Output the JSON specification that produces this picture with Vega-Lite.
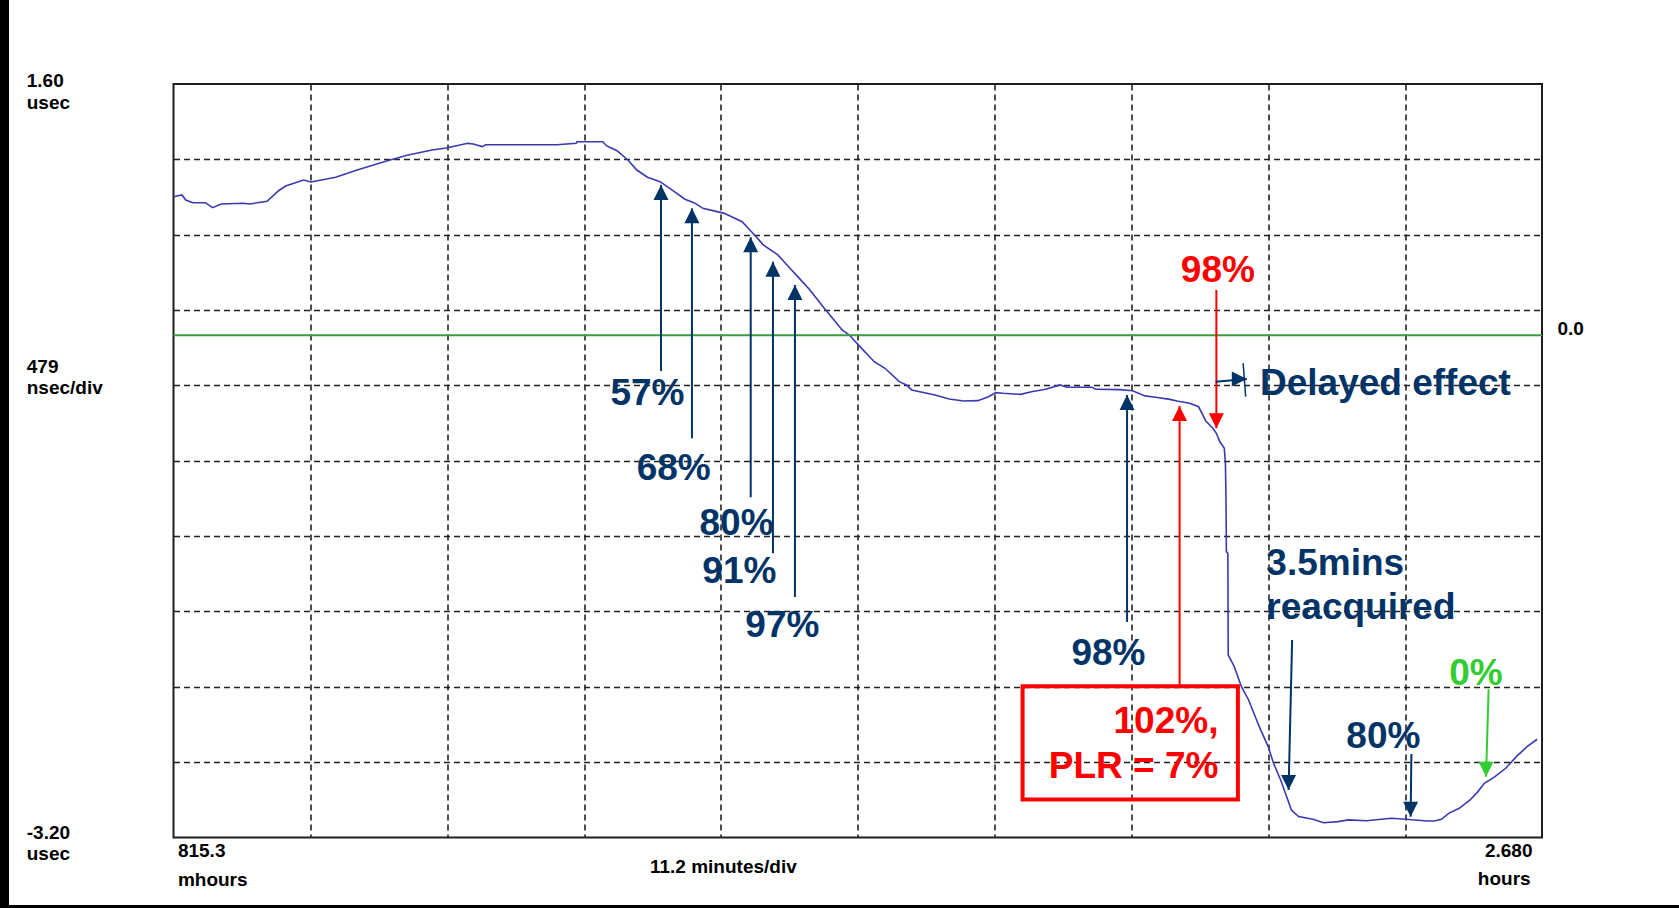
{
  "$schema": "https://vega.github.io/schema/vega-lite/v6.json",
  "width": 1368.5,
  "height": 753.5,
  "autosize": {"type": "none"},
  "padding": {"left": 173.5, "top": 84, "right": 137, "bottom": 70.5},
  "background": "white",
  "config": {
    "view": {"stroke": "#1e1e1e", "strokeWidth": 2},
    "font": "Liberation Sans",
    "axis": {
      "grid": true, "gridDash": [6, 4], "gridColor": "#222222", "gridWidth": 1.6, "gridOpacity": 1,
      "labels": false, "ticks": false, "domain": false
    }
  },
  "datasets": {
    "trace": [
      {"t": 0.0, "v": 0.882}, {"t": 0.70, "v": 0.893}, {"t": 1.00, "v": 0.861}, {"t": 1.59, "v": 0.844},
      {"t": 2.61, "v": 0.844}, {"t": 3.19, "v": 0.812}, {"t": 3.92, "v": 0.836}, {"t": 5.68, "v": 0.840},
      {"t": 6.26, "v": 0.836}, {"t": 7.66, "v": 0.853}, {"t": 8.60, "v": 0.920}, {"t": 9.18, "v": 0.950},
      {"t": 10.65, "v": 0.988}, {"t": 11.23, "v": 0.976}, {"t": 12.10, "v": 0.988}, {"t": 13.27, "v": 1.006},
      {"t": 15.03, "v": 1.052}, {"t": 17.37, "v": 1.108}, {"t": 19.12, "v": 1.146}, {"t": 21.16, "v": 1.180},
      {"t": 22.33, "v": 1.192}, {"t": 24.09, "v": 1.222}, {"t": 24.53, "v": 1.218}, {"t": 25.26, "v": 1.201},
      {"t": 25.55, "v": 1.213}, {"t": 31.39, "v": 1.213}, {"t": 32.95, "v": 1.222}, {"t": 33.03, "v": 1.232},
      {"t": 35.14, "v": 1.232}, {"t": 35.43, "v": 1.207}, {"t": 36.30, "v": 1.175}, {"t": 37.19, "v": 1.116},
      {"t": 37.92, "v": 1.052}, {"t": 38.79, "v": 1.006}, {"t": 39.82, "v": 0.978}, {"t": 40.99, "v": 0.914},
      {"t": 41.86, "v": 0.866}, {"t": 42.59, "v": 0.844}, {"t": 43.33, "v": 0.808}, {"t": 44.49, "v": 0.787},
      {"t": 45.08, "v": 0.776}, {"t": 46.53, "v": 0.723}, {"t": 47.42, "v": 0.649}, {"t": 48.29, "v": 0.574},
      {"t": 49.46, "v": 0.511}, {"t": 50.34, "v": 0.436}, {"t": 51.22, "v": 0.362}, {"t": 52.09, "v": 0.288},
      {"t": 53.26, "v": 0.171}, {"t": 53.84, "v": 0.118}, {"t": 54.72, "v": 0.033}, {"t": 55.31, "v": 0.001},
      {"t": 56.18, "v": -0.073}, {"t": 57.35, "v": -0.169}, {"t": 58.23, "v": -0.211}, {"t": 59.40, "v": -0.296},
      {"t": 59.98, "v": -0.317}, {"t": 60.42, "v": -0.349}, {"t": 62.32, "v": -0.381}, {"t": 63.49, "v": -0.407},
      {"t": 64.66, "v": -0.419}, {"t": 65.83, "v": -0.417}, {"t": 66.71, "v": -0.392}, {"t": 67.29, "v": -0.366},
      {"t": 67.88, "v": -0.370}, {"t": 69.34, "v": -0.377}, {"t": 70.21, "v": -0.360}, {"t": 71.38, "v": -0.345},
      {"t": 72.55, "v": -0.317}, {"t": 73.13, "v": -0.332}, {"t": 75.18, "v": -0.332}, {"t": 75.47, "v": -0.345},
      {"t": 77.46, "v": -0.347}, {"t": 78.49, "v": -0.354}, {"t": 79.51, "v": -0.387}, {"t": 80.38, "v": -0.396},
      {"t": 81.55, "v": -0.409}, {"t": 82.13, "v": -0.419}, {"t": 83.16, "v": -0.434}, {"t": 83.89, "v": -0.456},
      {"t": 84.18, "v": -0.498}, {"t": 84.47, "v": -0.545}, {"t": 85.06, "v": -0.593}, {"t": 85.35, "v": -0.625},
      {"t": 85.64, "v": -0.679}, {"t": 86.00, "v": -0.721}, {"t": 86.09, "v": -0.816}, {"t": 86.14, "v": -1.050},
      {"t": 86.17, "v": -1.379}, {"t": 86.29, "v": -1.390}, {"t": 86.32, "v": -2.037}, {"t": 86.82, "v": -2.112},
      {"t": 87.40, "v": -2.239}, {"t": 87.99, "v": -2.324}, {"t": 88.86, "v": -2.494}, {"t": 89.59, "v": -2.621},
      {"t": 90.03, "v": -2.727}, {"t": 90.61, "v": -2.834}, {"t": 91.20, "v": -2.961}, {"t": 91.49, "v": -3.025},
      {"t": 92.08, "v": -3.067}, {"t": 93.25, "v": -3.084}, {"t": 94.12, "v": -3.106}, {"t": 95.29, "v": -3.099},
      {"t": 96.17, "v": -3.088}, {"t": 97.63, "v": -3.093}, {"t": 99.67, "v": -3.077}, {"t": 100.84, "v": -3.084},
      {"t": 102.60, "v": -3.095}, {"t": 103.18, "v": -3.095}, {"t": 103.77, "v": -3.084}, {"t": 104.36, "v": -3.046},
      {"t": 105.23, "v": -3.014}, {"t": 106.11, "v": -2.961}, {"t": 106.69, "v": -2.914}, {"t": 107.28, "v": -2.855},
      {"t": 108.15, "v": -2.812}, {"t": 109.03, "v": -2.759}, {"t": 109.90, "v": -2.685}, {"t": 110.78, "v": -2.621},
      {"t": 111.60, "v": -2.574}
    ],
    "zero": [{"v": 0}],
    "edges": [
      {"t0": -14.2, "t1": -13.46, "v0": 2.135, "v1": -3.649},
      {"t0": -14.2, "t1": 123.21, "v0": -3.630, "v1": -3.649}
    ],
    "arrows": [
      {"t0": 39.90, "v0": -0.228, "t1": 39.90, "v1": 0.957, "dir": "up", "kind": "step"},
      {"t0": 42.43, "v0": -0.657, "t1": 42.43, "v1": 0.808, "dir": "up", "kind": "step"},
      {"t0": 47.24, "v0": -1.033, "t1": 47.24, "v1": 0.623, "dir": "up", "kind": "step"},
      {"t0": 49.06, "v0": -1.390, "t1": 49.06, "v1": 0.468, "dir": "up", "kind": "step"},
      {"t0": 50.86, "v0": -1.668, "t1": 50.86, "v1": 0.320, "dir": "up", "kind": "step"},
      {"t0": 78.04, "v0": -1.827, "t1": 78.04, "v1": -0.381, "dir": "up", "kind": "step"},
      {"t0": 82.34, "v0": -2.236, "t1": 82.34, "v1": -0.451, "dir": "up", "kind": "alarm"},
      {"t0": 85.35, "v0": 0.288, "t1": 85.35, "v1": -0.593, "dir": "down", "kind": "alarm"},
      {"t0": 91.55, "v0": -1.942, "t1": 91.26, "v1": -2.897, "dir": "down", "kind": "step"},
      {"t0": 101.31, "v0": -2.668, "t1": 101.25, "v1": -3.068, "dir": "down", "kind": "step"},
      {"t0": 107.63, "v0": -2.256, "t1": 107.42, "v1": -2.813, "dir": "down", "kind": "clear"},
      {"t0": 85.29, "v0": -0.296, "t1": 87.84, "v1": -0.279, "dir": "right", "kind": "step"}
    ],
    "stops": [{"t0": 87.54, "v0": -0.179, "t1": 87.75, "v1": -0.392}],
    "box": [{"t0": 69.49, "t1": 87.11, "v0": -2.236, "v1": -2.958}],
    "pct_notes": [
      {"t": 38.79, "v": -0.445, "text": "57%", "kind": "step"},
      {"t": 40.94, "v": -0.923, "text": "68%", "kind": "step"},
      {"t": 46.08, "v": -1.273, "text": "80%", "kind": "step"},
      {"t": 46.31, "v": -1.577, "text": "91%", "kind": "step"},
      {"t": 49.83, "v": -1.921, "text": "97%", "kind": "step"},
      {"t": 76.52, "v": -2.101, "text": "98%", "kind": "step"},
      {"t": 85.47, "v": 0.341, "text": "98%", "kind": "alarm"},
      {"t": 99.02, "v": -2.632, "text": "80%", "kind": "step"},
      {"t": 106.60, "v": -2.228, "text": "0%", "kind": "clear"}
    ],
    "notes_left": [
      {"t": 88.92, "v": -0.381, "text": "Delayed effect"},
      {"t": 89.44, "v": -1.528, "text": "3.5mins"},
      {"t": 89.44, "v": -1.805, "text": "reacquired"}
    ],
    "notes_right": [
      {"t": 85.52, "v": -2.534, "text": "102%,"},
      {"t": 85.52, "v": -2.823, "text": "PLR = 7%"}
    ],
    "scale_left": [
      {"t": -12.01, "v": 1.579, "text": "1.60"},
      {"t": -12.01, "v": 1.439, "text": "usec"},
      {"t": -12.01, "v": -0.239, "text": "479"},
      {"t": -12.01, "v": -0.377, "text": "nsec/div"},
      {"t": -12.01, "v": -3.210, "text": "-3.20"},
      {"t": -12.01, "v": -3.343, "text": "usec"},
      {"t": 0.36, "v": -3.326, "text": "815.3"},
      {"t": 0.36, "v": -3.509, "text": "mhours"},
      {"t": 113.27, "v": 0.0, "text": "0.0"}
    ],
    "scale_center": [{"t": 45.0, "v": -3.428, "text": "11.2 minutes/div"}],
    "scale_right": [
      {"t": 111.22, "v": -3.322, "text": "2.680"},
      {"t": 111.07, "v": -3.503, "text": "hours"}
    ]
  },
  "layer": [
    {
      "data": {"name": "edges"},
      "mark": {"type": "rect", "color": "#000000"},
      "encoding": {
        "x": {"field": "t0", "type": "quantitative", "axis": {"title": null}},
        "x2": {"field": "t1"},
        "y": {"field": "v0", "type": "quantitative", "axis": {"title": null}},
        "y2": {"field": "v1"}
      }
    },
    {
      "data": {"name": "trace"},
      "mark": {"type": "line", "color": "#3a3ab0", "strokeWidth": 1.6},
      "encoding": {
        "x": {
          "field": "t", "type": "quantitative",
          "scale": {"domain": [0, 112], "nice": false, "zero": false},
          "axis": {"values": [11.2, 22.4, 33.6, 44.8, 56, 67.2, 78.4, 89.6, 100.8], "title": null}
        },
        "y": {
          "field": "v", "type": "quantitative",
          "scale": {"domain": [-3.2, 1.6], "nice": false, "zero": false},
          "axis": {"values": [-2.72, -2.24, -1.76, -1.28, -0.8, -0.32, 0.16, 0.64, 1.12], "title": null}
        }
      }
    },
    {
      "data": {"name": "zero"},
      "mark": {"type": "rule", "color": "#3d9b3d", "strokeWidth": 2},
      "encoding": {"y": {"field": "v", "type": "quantitative", "axis": {"title": null}}}
    },
    {
      "data": {"name": "box"},
      "mark": {"type": "rect", "filled": false, "stroke": "#ff0000", "strokeWidth": 4},
      "encoding": {
        "x": {"field": "t0", "type": "quantitative", "axis": {"title": null}},
        "x2": {"field": "t1"},
        "y": {"field": "v0", "type": "quantitative", "axis": {"title": null}},
        "y2": {"field": "v1"}
      }
    },
    {
      "data": {"name": "arrows"},
      "mark": {"type": "rule", "strokeWidth": 2},
      "encoding": {
        "x": {"field": "t0", "type": "quantitative", "axis": {"title": null}},
        "x2": {"field": "t1"},
        "y": {"field": "v0", "type": "quantitative", "axis": {"title": null}},
        "y2": {"field": "v1"},
        "color": {
          "field": "kind", "type": "nominal", "legend": null,
          "scale": {"domain": ["step", "alarm", "clear"], "range": ["#003366", "#ff0000", "#33cc33"]}
        }
      }
    },
    {
      "data": {"name": "arrows"},
      "mark": {"type": "point", "filled": true, "opacity": 1, "size": 225, "strokeWidth": 0},
      "encoding": {
        "x": {"field": "t1", "type": "quantitative", "axis": {"title": null}},
        "y": {"field": "v1", "type": "quantitative", "axis": {"title": null}},
        "shape": {
          "field": "dir", "type": "nominal", "legend": null,
          "scale": {"domain": ["up", "down", "right"], "range": ["M0,0L-1,2L1,2Z", "M0,0L-1,-2L1,-2Z", "M0,0L-2,-1L-2,1Z"]}
        },
        "color": {
          "field": "kind", "type": "nominal", "legend": null,
          "scale": {"domain": ["step", "alarm", "clear"], "range": ["#003366", "#ff0000", "#33cc33"]}
        }
      }
    },
    {
      "data": {"name": "stops"},
      "mark": {"type": "rule", "color": "#003366", "strokeWidth": 1.5},
      "encoding": {
        "x": {"field": "t0", "type": "quantitative", "axis": {"title": null}},
        "x2": {"field": "t1"},
        "y": {"field": "v0", "type": "quantitative", "axis": {"title": null}},
        "y2": {"field": "v1"}
      }
    },
    {
      "data": {"name": "pct_notes"},
      "mark": {"type": "text", "align": "center", "baseline": "alphabetic", "fontSize": 37, "fontWeight": "bold", "font": "Liberation Sans"},
      "encoding": {
        "x": {"field": "t", "type": "quantitative", "axis": {"title": null}},
        "y": {"field": "v", "type": "quantitative", "axis": {"title": null}},
        "text": {"field": "text"},
        "color": {
          "field": "kind", "type": "nominal", "legend": null,
          "scale": {"domain": ["step", "alarm", "clear"], "range": ["#003366", "#ff0000", "#33cc33"]}
        }
      }
    },
    {
      "data": {"name": "notes_left"},
      "mark": {"type": "text", "align": "left", "baseline": "alphabetic", "fontSize": 37, "fontWeight": "bold", "font": "Liberation Sans", "color": "#003366"},
      "encoding": {
        "x": {"field": "t", "type": "quantitative", "axis": {"title": null}},
        "y": {"field": "v", "type": "quantitative", "axis": {"title": null}},
        "text": {"field": "text"}
      }
    },
    {
      "data": {"name": "notes_right"},
      "mark": {"type": "text", "align": "right", "baseline": "alphabetic", "fontSize": 37, "fontWeight": "bold", "font": "Liberation Sans", "color": "#ff0000"},
      "encoding": {
        "x": {"field": "t", "type": "quantitative", "axis": {"title": null}},
        "y": {"field": "v", "type": "quantitative", "axis": {"title": null}},
        "text": {"field": "text"}
      }
    },
    {
      "data": {"name": "scale_left"},
      "mark": {"type": "text", "align": "left", "baseline": "alphabetic", "fontSize": 19, "fontWeight": "bold", "font": "Liberation Sans", "color": "#000000"},
      "encoding": {
        "x": {"field": "t", "type": "quantitative", "axis": {"title": null}},
        "y": {"field": "v", "type": "quantitative", "axis": {"title": null}},
        "text": {"field": "text"}
      }
    },
    {
      "data": {"name": "scale_center"},
      "mark": {"type": "text", "align": "center", "baseline": "alphabetic", "fontSize": 19, "fontWeight": "bold", "font": "Liberation Sans", "color": "#000000"},
      "encoding": {
        "x": {"field": "t", "type": "quantitative", "axis": {"title": null}},
        "y": {"field": "v", "type": "quantitative", "axis": {"title": null}},
        "text": {"field": "text"}
      }
    },
    {
      "data": {"name": "scale_right"},
      "mark": {"type": "text", "align": "right", "baseline": "alphabetic", "fontSize": 19, "fontWeight": "bold", "font": "Liberation Sans", "color": "#000000"},
      "encoding": {
        "x": {"field": "t", "type": "quantitative", "axis": {"title": null}},
        "y": {"field": "v", "type": "quantitative", "axis": {"title": null}},
        "text": {"field": "text"}
      }
    }
  ]
}
